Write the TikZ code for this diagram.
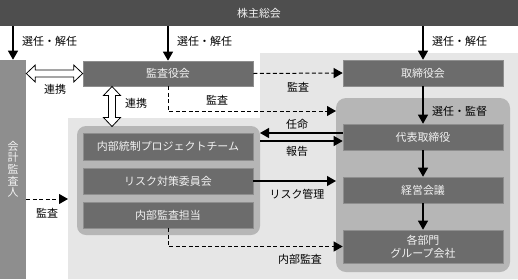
\documentclass[tikz,border=0pt]{standalone}
\usepackage{fontspec}
\newfontfamily\jp{Noto Sans CJK JP}
\usetikzlibrary{arrows.meta,calc}
\definecolor{topc}{HTML}{4E4E4E}
\definecolor{boxc}{HTML}{6C6C6C}
\definecolor{boxl}{HTML}{8E8E8E}
\definecolor{kaic}{HTML}{8E8E8E}
\definecolor{grpc}{HTML}{B6B6B6}
\definecolor{bgc}{HTML}{E6E6E6}
\definecolor{txtc}{HTML}{F2F2F2}
\tikzset{
  base/.style={font=\jp\fontsize{11}{13}\selectfont},
  box/.style={base, draw=boxl, line width=0.6bp, fill=boxc, text=txtc, inner sep=0pt, align=center},
  lbl/.style={base, text=black, inner sep=0pt},
  vch/.style={base, text=txtc, inner sep=0pt},
  arr/.style={line width=1.2bp, -{Triangle[length=9bp,width=10bp]}},
  darr/.style={line width=1bp, dash pattern=on 4bp off 2.5bp, -{Triangle[length=9bp,width=10bp]}},
  hollow/.style={draw=black, line width=0.8bp, fill=white, line join=miter},
}
\begin{document}
\begin{tikzpicture}[x=1bp,y=-1bp]
\useasboundingbox (0,0) rectangle (518,279);
% background light region
\fill[bgc] (68,118) -- (260,118) -- (260,53) -- (518,53) -- (518,279) -- (68,279) -- cycle;
% groups
\fill[grpc, rounded corners=9bp] (77,126) rectangle (260,235);
\fill[grpc, rounded corners=10bp] (336,98) rectangle (510,272);
\coordinate (ggl) at (260,126);
\coordinate (grr) at (336,98);
% top bar
\node[box, draw=none, fill=topc, minimum width=518bp, minimum height=26bp] (top) at (259,13) {株主総会};
% boxes
\node[box, draw=none, fill=kaic, minimum width=26bp, minimum height=219bp] (kai) at (13,169.5) {};
\foreach \c [count=\i] in {会,計,監,査,人}
  \node[vch] (kc\i) at (13,{146+11.6*(\i-1)}) {\c};
\node[box, minimum width=170bp, minimum height=25bp] (kansa) at (168,73.5) {監査役会};
\node[box, minimum width=170bp, minimum height=27bp] (pj) at (168,146.5) {内部統制プロジェクトチーム};
\node[box, minimum width=170bp, minimum height=26bp] (risk) at (168,181) {リスク対策委員会};
\node[box, minimum width=170bp, minimum height=26bp] (naibu) at (168,215) {内部監査担当};
\node[box, minimum width=160bp, minimum height=26bp] (tori) at (423,73) {取締役会};
\node[box, minimum width=160bp, minimum height=26bp] (daihyo) at (423,137) {代表取締役};
\node[box, minimum width=160bp, minimum height=26bp] (keiei) at (423,190) {経営会議};
\node[box, minimum width=160bp, minimum height=33bp] (kakubu) at (423,246.5) {各部門\\グループ会社};
% arrows from top
\draw[arr] (top.south -| kai.north) -- (kai.north);
\draw[arr] (top.south -| kansa.north) -- (kansa.north);
\draw[arr] (top.south -| tori.north) -- (tori.north);
\node[lbl, anchor=west] (l1) at (22,41) {選任・解任};
\node[lbl, anchor=west] (l2) at (177,41) {選任・解任};
\node[lbl, anchor=west] (l3) at (432,41) {選任・解任};
% right column
\draw[arr] (tori.south) -- (daihyo.north);
\node[lbl, anchor=west] (l4) at (432,111) {選任・監督};
\draw[arr] (daihyo.south) -- (keiei.north);
\draw[arr] (keiei.south) -- (kakubu.north);
% hollow double arrows
\coordinate (h1) at (kai.east |- kansa.west);
\coordinate (h2) at (kansa.west);
\draw[hollow] (h1) -- ($(h1)+(9,-8.5)$) -- ($(h1)+(9,-3.5)$) -- ($(h2)+(-9,-3.5)$) -- ($(h2)+(-9,-8.5)$) -- (h2)
  -- ($(h2)+(-9,8.5)$) -- ($(h2)+(-9,3.5)$) -- ($(h1)+(9,3.5)$) -- ($(h1)+(9,8.5)$) -- cycle;
\node[lbl] (r1) at (55,89) {連携};
\coordinate (v1) at (112,86.5);
\coordinate (v2) at (112,126.5);
\draw[hollow] (v1) -- ($(v1)+(-8.5,9)$) -- ($(v1)+(-3.5,9)$) -- ($(v2)+(-3.5,-9)$) -- ($(v2)+(-8.5,-9)$) -- (v2)
  -- ($(v2)+(8.5,-9)$) -- ($(v2)+(3.5,-9)$) -- ($(v1)+(3.5,9)$) -- ($(v1)+(8.5,9)$) -- cycle;
\node[lbl] (r2) at (136,103) {連携};
% dashed audits
\draw[darr] (kansa.east) -- (tori.west);
\node[lbl] (a1) at (298,87) {監査};
\coordinate (d1) at (grr |- 0,111);
\draw[darr] (kansa.south) |- (d1);
\node[lbl] (a2) at (217,100) {監査};
\coordinate (d2) at (68,199);
\draw[darr] (kai.east |- d2) -- (d2);
\node[lbl] (a3) at (47,213) {監査};
\draw[darr] (naibu.south) |- (kakubu.west);
\node[lbl] (a4) at (300,259) {内部監査};
% appoint / report
\coordinate (n1) at (ggl |- 0,133);
\coordinate (n2) at (ggl |- 0,141);
\draw[line width=1.2bp, -{Triangle[length=9bp,width=10bp]}] (daihyo.west |- n1) -- (n1);
\draw[line width=1.2bp, -{Triangle[length=9bp,width=10bp]}] (n2) -- (daihyo.west |- n2);
\node[lbl] (m1) at (297,124) {任命};
\node[lbl] (m2) at (297,151) {報告};
\coordinate (rk) at (grr |- risk.east);
\draw[arr] (risk.east) -- (rk);
\node[lbl] (m3) at (297,194) {リスク管理};
\end{tikzpicture}
\end{document}
